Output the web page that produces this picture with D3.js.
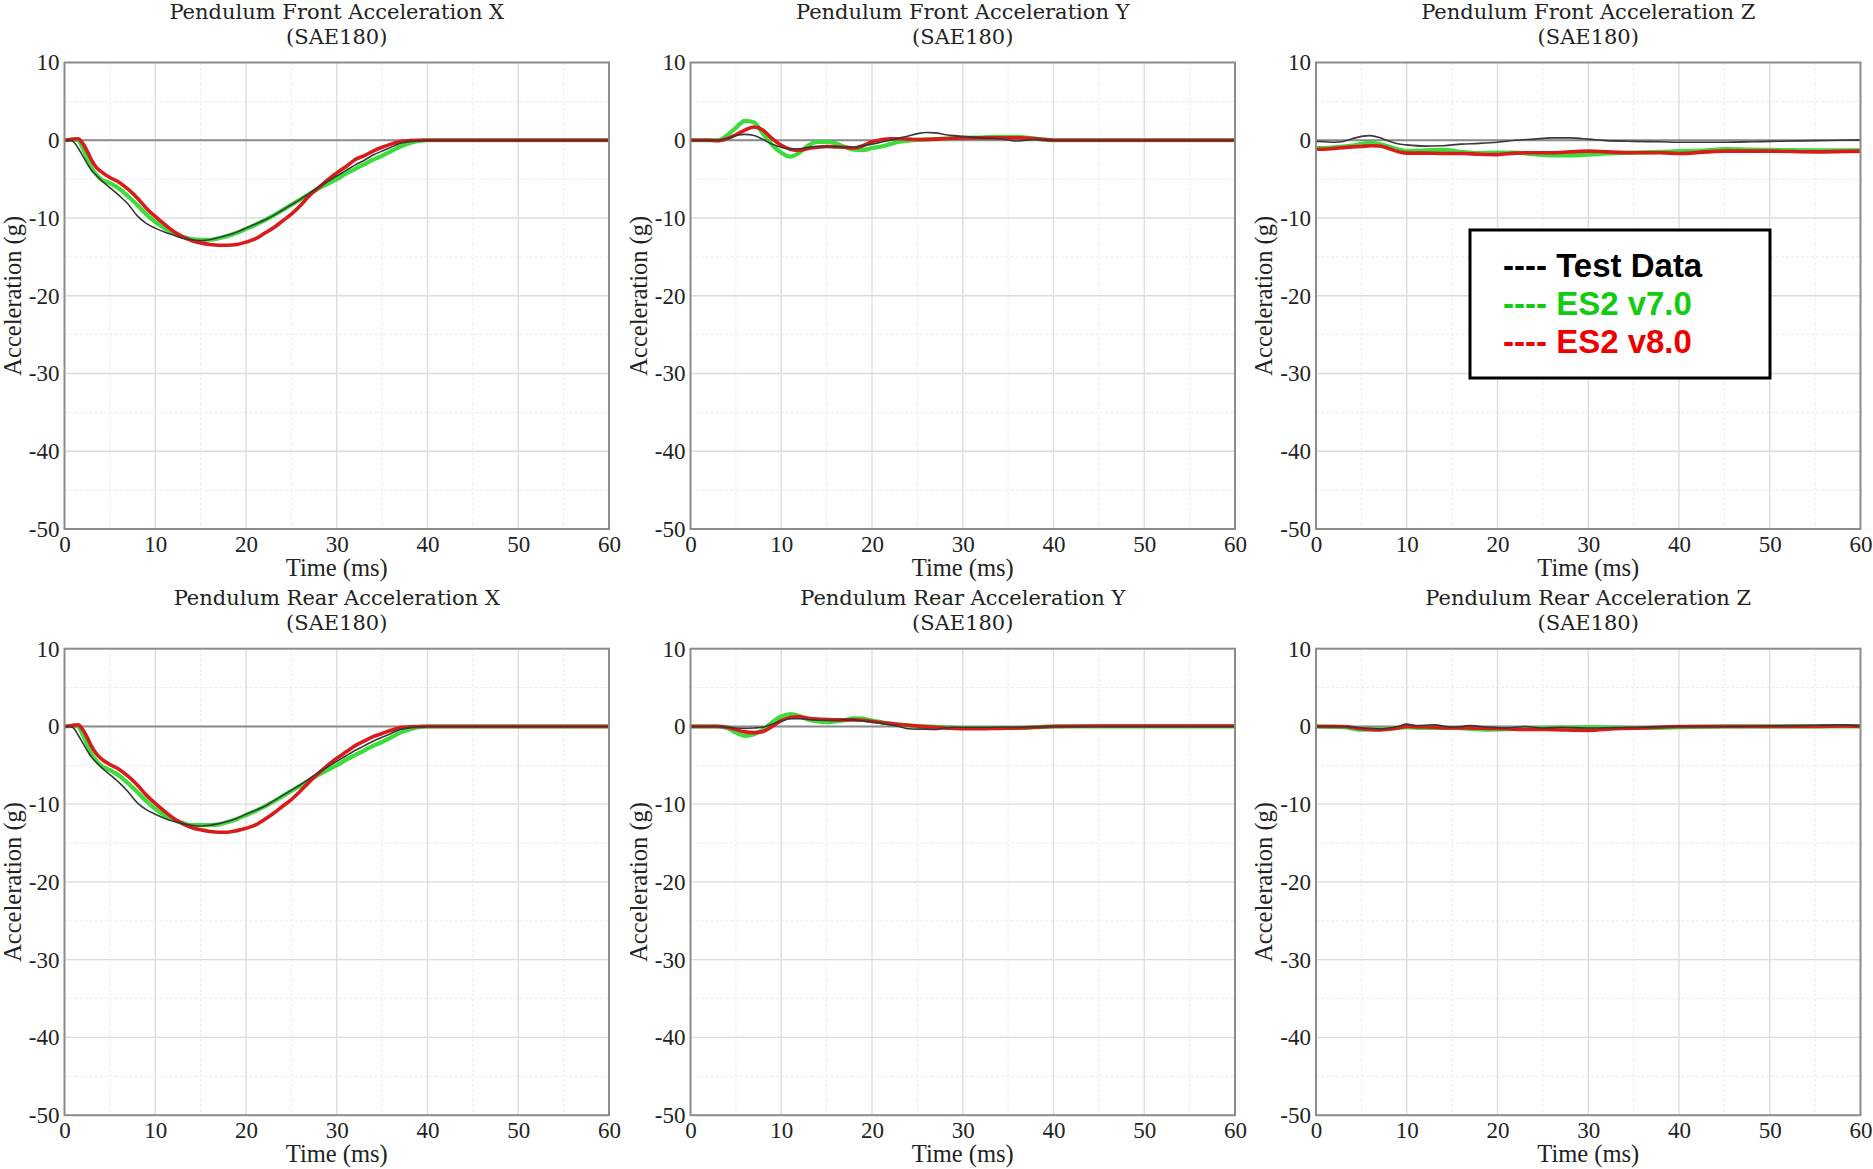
<!DOCTYPE html>
<html>
<head>
<meta charset="utf-8">
<script src="https://cdn.jsdelivr.net/npm/d3@7"></script>
<style>
  html, body { margin: 0; padding: 0; background: #ffffff; }
  svg { display: block; }
</style>
</head>
<body>
<svg id="chart" width="1873" height="1169"></svg>
<script>
// ---------------- DATA ----------------
const xTicks = [0, 10, 20, 30, 40, 50, 60];
const yTicks = [10, 0, -10, -20, -30, -40, -50];
const xDomain = [0, 60];
const yDomain = [-50, 10];
const seriesNames = ["Test Data", "ES2 v7.0", "ES2 v8.0"];
const panelTitles = [
  "Pendulum Front Acceleration X", "Pendulum Front Acceleration Y", "Pendulum Front Acceleration Z",
  "Pendulum Rear Acceleration X", "Pendulum Rear Acceleration Y", "Pendulum Rear Acceleration Z"
];
const panelSubtitle = "(SAE180)";
const xLabel = "Time (ms)";
const yLabel = "Acceleration (g)";

// Front X
const timeFX = [0,0.5,1,1.5,2,2.5,3,3.5,4,5,6,7,8,9,10,11,12,13,14,15,16,17,18,19,20,21,22,23,24,25,26,27,28,29,30,31,32,33,34,35,36,37,38,39,40,45,50,55,60];
const testFX = [0,0,-0.2,-1.0,-2.0,-3.0,-3.9,-4.5,-5.1,-6.1,-7.1,-8.2,-9.7,-10.7,-11.3,-11.8,-12.2,-12.6,-12.8,-12.9,-12.8,-12.5,-12.2,-11.8,-11.3,-10.8,-10.3,-9.7,-9.0,-8.3,-7.6,-6.8,-6.0,-5.3,-4.6,-3.9,-3.2,-2.6,-1.9,-1.4,-0.9,-0.4,-0.15,-0.05,0,0,0,0,0];
const es2v7FX = [0,0.05,0.1,0.0,-1.0,-2.3,-3.6,-4.4,-5.0,-5.5,-6.2,-7.2,-8.3,-9.5,-10.5,-11.3,-11.9,-12.4,-12.7,-12.8,-12.8,-12.6,-12.3,-11.9,-11.4,-10.9,-10.3,-9.7,-9.0,-8.3,-7.6,-6.9,-6.2,-5.6,-5.0,-4.3,-3.7,-3.1,-2.5,-2.0,-1.4,-0.8,-0.4,-0.1,0,0,0,0,0];
const es2v8FX = [0,0.05,0.15,0.2,-0.4,-1.4,-2.6,-3.5,-4.0,-4.8,-5.4,-6.3,-7.4,-8.7,-9.8,-10.8,-11.7,-12.4,-12.9,-13.2,-13.4,-13.5,-13.5,-13.4,-13.1,-12.7,-12.0,-11.3,-10.4,-9.5,-8.4,-7.1,-6.1,-5.1,-4.2,-3.4,-2.5,-2.0,-1.4,-0.9,-0.5,-0.15,-0.05,0,0,0,0,0,0];

// Front Y
const timeFY = [0,1,2,3,4,5,6,7,8,9,10,11,12,13,14,15,16,17,18,19,20,21,22,23,24,25,26,27,28,29,30,32,34,36,38,40,45,50,55,60];
const testFY = [0,0,0,0,0.2,0.6,0.75,0.6,0.1,-0.5,-0.9,-1.15,-1.1,-0.9,-0.8,-0.8,-0.85,-0.9,-0.9,-0.7,-0.5,-0.25,0,0.3,0.55,0.85,1.0,0.95,0.75,0.6,0.5,0.3,0.2,-0.1,0.1,0,0,0,0,0];
const es2v7FY = [0,0,0,0,0.6,1.6,2.5,2.3,0.8,-0.6,-1.6,-2.1,-1.6,-0.65,-0.2,-0.2,-0.4,-0.85,-1.2,-1.25,-1.0,-0.8,-0.5,-0.2,-0.05,0.05,0.1,0.15,0.2,0.25,0.3,0.35,0.45,0.45,0.2,0,0,0,0,0];
const es2v8FY = [0,0,0,-0.05,0.2,0.7,1.3,1.7,1.3,0.2,-0.65,-1.15,-1.3,-1.05,-0.9,-0.8,-0.85,-0.9,-1.0,-0.7,-0.2,0.05,0.2,0.2,0.15,0.1,0.1,0.15,0.2,0.25,0.3,0.3,0.3,0.3,0.2,0,0,0,0,0];

// Front Z
const timeFZ = [0,1,2,3,4,5,6,7,8,9,10,12,14,16,18,20,22,24,26,28,30,32,35,38,40,43,45,48,50,55,60];
const testFZ = [-0.15,-0.2,-0.25,-0.15,0.2,0.5,0.6,0.35,-0.1,-0.45,-0.6,-0.75,-0.7,-0.5,-0.4,-0.25,0,0.15,0.3,0.3,0.15,-0.05,-0.15,-0.2,-0.25,-0.25,-0.25,-0.2,-0.15,-0.05,0.05];
const es2v7FZ = [-1.0,-1.0,-0.9,-0.8,-0.7,-0.45,-0.35,-0.5,-0.8,-1.15,-1.4,-1.3,-1.25,-1.5,-1.65,-1.6,-1.6,-1.8,-1.95,-1.95,-1.85,-1.7,-1.6,-1.5,-1.4,-1.3,-1.15,-1.2,-1.25,-1.3,-1.3];
const es2v8FZ = [-1.15,-1.15,-1.05,-0.95,-0.85,-0.8,-0.7,-0.75,-1.05,-1.45,-1.65,-1.65,-1.7,-1.7,-1.8,-1.85,-1.65,-1.6,-1.6,-1.5,-1.4,-1.5,-1.6,-1.6,-1.7,-1.5,-1.4,-1.4,-1.4,-1.5,-1.4];

// Rear X
const timeRX = timeFX;
const testRX = [0,0,-0.2,-1.1,-2.1,-3.1,-4.0,-4.6,-5.2,-6.2,-7.2,-8.4,-9.8,-10.7,-11.3,-11.8,-12.2,-12.5,-12.7,-12.8,-12.7,-12.5,-12.2,-11.8,-11.3,-10.8,-10.3,-9.6,-8.9,-8.2,-7.5,-6.7,-5.9,-5.2,-4.5,-3.8,-3.1,-2.5,-1.9,-1.4,-0.9,-0.4,-0.15,-0.05,0,0,0,0,0];
const es2v7RX = [0,0.05,0.1,0.0,-1.0,-2.3,-3.6,-4.4,-5.0,-5.6,-6.3,-7.3,-8.4,-9.6,-10.6,-11.4,-12.0,-12.4,-12.7,-12.7,-12.7,-12.6,-12.3,-11.9,-11.4,-10.9,-10.3,-9.7,-9.0,-8.3,-7.6,-6.9,-6.2,-5.6,-5.0,-4.3,-3.7,-3.1,-2.5,-2.0,-1.4,-0.8,-0.4,-0.1,0,0,0,0,0];
const es2v8RX = [0,0.05,0.15,0.2,-0.4,-1.4,-2.6,-3.5,-4.1,-4.9,-5.5,-6.4,-7.5,-8.8,-9.9,-10.9,-11.8,-12.5,-13.0,-13.3,-13.5,-13.6,-13.6,-13.4,-13.1,-12.7,-12.0,-11.2,-10.3,-9.4,-8.3,-7.1,-6.0,-5.0,-4.1,-3.3,-2.5,-1.9,-1.3,-0.9,-0.5,-0.15,-0.05,0,0,0,0,0,0];

// Rear Y
const timeRY = timeFY;
const testRY = [0,0,0,0,-0.1,-0.2,-0.25,-0.2,-0.1,0.3,0.7,1.0,1.0,0.9,0.8,0.8,0.8,0.85,0.85,0.7,0.6,0.4,0.2,0,-0.3,-0.35,-0.35,-0.4,-0.2,-0.1,-0.1,-0.1,-0.1,-0.1,-0.05,0,0,0,0,0];
const es2v7RY = [0,0,0,0,-0.2,-0.8,-1.2,-1.0,-0.4,0.55,1.3,1.6,1.35,0.85,0.65,0.55,0.65,0.8,1.05,1.0,0.75,0.55,0.35,0.25,0.15,0.05,0,-0.05,-0.1,-0.15,-0.2,-0.2,-0.2,-0.2,-0.1,0,0,0,0,0];
const es2v8RY = [0,0,0,0,-0.1,-0.4,-0.7,-0.8,-0.65,0,0.75,1.15,1.25,1.05,0.95,0.9,0.85,0.85,0.85,0.8,0.65,0.5,0.4,0.25,0.15,0.05,-0.05,-0.1,-0.2,-0.25,-0.3,-0.3,-0.25,-0.2,-0.1,0,0.05,0.05,0.05,0.05];

// Rear Z
const timeRZ = [0,3,5,7,9,10,11,13,15,17,19,21,23,25,27,30,33,36,40,45,50,55,58,60];
const testRZ = [0,0,-0.2,-0.3,0,0.3,0.1,0.2,-0.1,0.1,-0.1,-0.2,0,-0.2,-0.1,-0.2,-0.15,-0.1,0,0,0.05,0.15,0.2,0.1];
const es2v7RZ = [0,-0.1,-0.4,-0.35,-0.2,-0.1,-0.15,-0.2,-0.2,-0.3,-0.4,-0.35,-0.25,-0.2,-0.15,-0.1,-0.15,-0.2,-0.1,0,0,0,0,0];
const es2v8RZ = [0,0,-0.3,-0.45,-0.2,0,-0.05,-0.1,-0.2,-0.2,-0.25,-0.3,-0.4,-0.4,-0.45,-0.5,-0.3,-0.2,0,0,0,0,0.05,0];

// ---------------- LAYOUT / STYLE ----------------
const panels = [
  { title: panelTitles[0], t: timeFX, s: [testFX, es2v7FX, es2v8FX] },
  { title: panelTitles[1], t: timeFY, s: [testFY, es2v7FY, es2v8FY] },
  { title: panelTitles[2], t: timeFZ, s: [testFZ, es2v7FZ, es2v8FZ] },
  { title: panelTitles[3], t: timeRX, s: [testRX, es2v7RX, es2v8RX] },
  { title: panelTitles[4], t: timeRY, s: [testRY, es2v7RY, es2v8RY] },
  { title: panelTitles[5], t: timeRZ, s: [testRZ, es2v7RZ, es2v8RZ] }
];
const colLefts = [64.5, 690.5, 1316];
const rowTops = [62.5, 648.7];
const plotW = 544.5, plotH = 466.5;

const lineStyles = [
  { color: "#383838", width: 1.6 },  // Test Data
  { color: "#3ddc3d", width: 4.2 },  // ES2 v7.0
  { color: "#d81b1b", width: 3.6 }   // ES2 v8.0
];
const drawOrder = [1, 2, 0];
const legendColors = ["#000000", "#11cc11", "#ee0000"];

const svg = d3.select("#chart");
svg.append("rect").attr("width", 1873).attr("height", 1169).attr("fill", "#ffffff");

const serif = "'Liberation Serif', 'Times New Roman', serif";
const titleFont = "'DejaVu Serif', serif";
const fmt = d => String(d);

panels.forEach((p, i) => {
  const left = colLefts[i % 3];
  const top = rowTops[Math.floor(i / 3)];
  const x = d3.scaleLinear().domain(xDomain).range([left, left + plotW]);
  const y = d3.scaleLinear().domain(yDomain).range([top + plotH, top]);
  const g = svg.append("g");

  const clipId = "clip" + i;
  svg.append("defs").append("clipPath").attr("id", clipId)
    .append("rect").attr("x", left).attr("y", top).attr("width", plotW).attr("height", plotH);

  // minor grid
  const minorX = d3.range(5, 60, 10);
  const minorY = d3.range(-45, 10, 10);
  g.selectAll(".mx").data(minorX).enter().append("line")
    .attr("x1", d => x(d)).attr("x2", d => x(d)).attr("y1", top).attr("y2", top + plotH)
    .attr("stroke", "#ececec").attr("stroke-width", 1).attr("stroke-dasharray", "3,2");
  g.selectAll(".my").data(minorY).enter().append("line")
    .attr("y1", d => y(d)).attr("y2", d => y(d)).attr("x1", left).attr("x2", left + plotW)
    .attr("stroke", "#ececec").attr("stroke-width", 1).attr("stroke-dasharray", "3,2");
  // major grid
  g.selectAll(".gx").data(xTicks.filter(d => d > 0 && d < 60)).enter().append("line")
    .attr("x1", d => x(d)).attr("x2", d => x(d)).attr("y1", top).attr("y2", top + plotH)
    .attr("stroke", "#dcdcdc").attr("stroke-width", 1.3);
  g.selectAll(".gy").data(yTicks.filter(d => d > -50 && d < 10)).enter().append("line")
    .attr("y1", d => y(d)).attr("y2", d => y(d)).attr("x1", left).attr("x2", left + plotW)
    .attr("stroke", "#dcdcdc").attr("stroke-width", 1.3);

  // zero line
  g.append("line").attr("x1", left).attr("x2", left + plotW).attr("y1", y(0)).attr("y2", y(0))
    .attr("stroke", "#8a8a8a").attr("stroke-width", 2);

  // series
  const lg = g.append("g").attr("clip-path", `url(#${clipId})`);
  drawOrder.forEach(k => {
    const pts = p.t.map((tt, j) => [tt, p.s[k][j]]);
    const line = d3.line().x(d => x(d[0])).y(d => y(d[1])).curve(d3.curveMonotoneX);
    lg.append("path").attr("d", line(pts)).attr("fill", "none")
      .attr("stroke", lineStyles[k].color).attr("stroke-width", lineStyles[k].width)
      .attr("stroke-linejoin", "round").attr("stroke-linecap", "round");
  });

  // border
  g.append("rect").attr("x", left).attr("y", top).attr("width", plotW).attr("height", plotH)
    .attr("fill", "none").attr("stroke", "#8c8c8c").attr("stroke-width", 2);

  // axes (labels only, no tick marks)
  const xAxis = d3.axisBottom(x).tickValues(xTicks).tickSize(0).tickPadding(0).tickFormat(fmt);
  const xa = g.append("g").attr("transform", `translate(0,${top + plotH})`).call(xAxis);
  xa.select(".domain").remove();
  xa.selectAll("text").attr("font-family", serif).attr("font-size", 23).attr("fill", "#222")
    .attr("y", 23).attr("dy", 0);

  const yAxis = d3.axisLeft(y).tickValues(yTicks).tickSize(0).tickPadding(5).tickFormat(fmt);
  const ya = g.append("g").attr("transform", `translate(${left},0)`).call(yAxis);
  ya.select(".domain").remove();
  ya.selectAll("text").attr("font-family", serif).attr("font-size", 23).attr("fill", "#222");

  // titles
  g.append("text").attr("x", left + plotW / 2).attr("y", top - 43.5).attr("text-anchor", "middle")
    .attr("font-family", titleFont).attr("font-size", 21).attr("fill", "#222").text(p.title);
  g.append("text").attr("x", left + plotW / 2).attr("y", top - 18.5).attr("text-anchor", "middle")
    .attr("font-family", titleFont).attr("font-size", 21).attr("fill", "#222").text(panelSubtitle);

  // axis labels
  g.append("text").attr("x", left + plotW / 2).attr("y", top + plotH + 47).attr("text-anchor", "middle")
    .attr("font-family", serif).attr("font-size", 24.5).attr("fill", "#222").text(xLabel);
  g.append("text")
    .attr("transform", `translate(${left - 52.5},${top + plotH / 2}) rotate(-90)`)
    .attr("text-anchor", "middle").attr("dominant-baseline", "central")
    .attr("font-family", serif).attr("font-size", 24.5).attr("fill", "#222").text(yLabel);
});

// legend (in Front Z panel)
const lgX = 1470, lgY = 230, lgW = 300, lgH = 148;
const leg = svg.append("g");
leg.append("rect").attr("x", lgX).attr("y", lgY).attr("width", lgW).attr("height", lgH)
  .attr("fill", "#ffffff").attr("stroke", "#000").attr("stroke-width", 3);
seriesNames.forEach((name, k) => {
  leg.append("text").attr("x", 1503).attr("y", 277 + k * 37.8)
    .attr("font-family", "'Liberation Sans', Arial, sans-serif").attr("font-weight", "bold")
    .attr("font-size", 33).attr("fill", legendColors[k])
    .attr("xml:space", "preserve").text("---- " + name);
});
</script>
</body>
</html>
